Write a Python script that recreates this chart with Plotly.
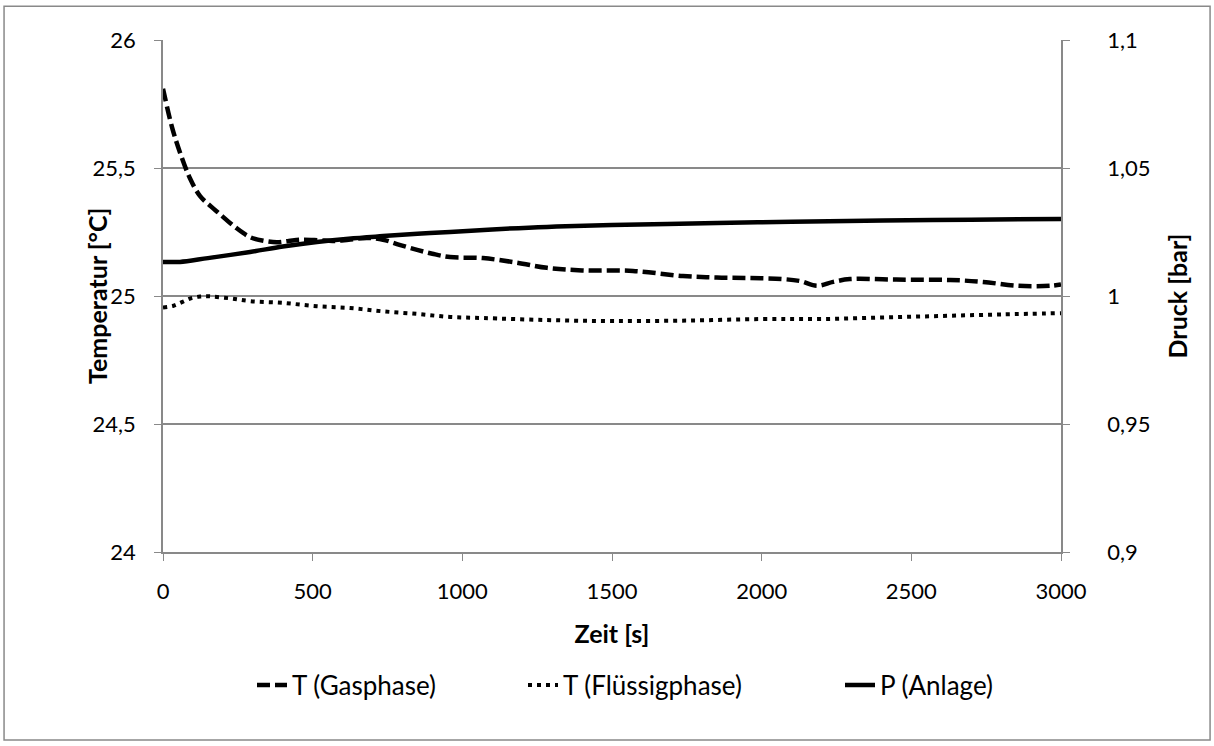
import plotly.graph_objects as go

# Data
t_gas = [0, 30, 57, 90, 124, 160, 190, 240, 291, 340, 381, 420, 458, 520, 568, 620, 681, 735, 790,
         849, 900, 959, 1069, 1183, 1283, 1400, 1570, 1737, 1850, 1961, 2071, 2130, 2185, 2239,
         2295, 2450, 2630, 2740, 2853, 2964, 3000]
T_gas = [25.81, 25.66, 25.56, 25.46, 25.39, 25.35, 25.32, 25.27, 25.23, 25.215, 25.21, 25.215, 25.22,
         25.218, 25.215, 25.22, 25.227, 25.22, 25.2, 25.18, 25.165, 25.152, 25.148, 25.13, 25.11,
         25.1, 25.098, 25.078, 25.072, 25.07, 25.066, 25.058, 25.04, 25.055, 25.066, 25.064,
         25.0625, 25.055, 25.04, 25.04, 25.045]

t_liq = [0, 35, 67, 95, 124, 150, 180, 230, 291, 401, 514, 625, 735, 849, 959, 1069, 1283, 1500,
         1750, 2000, 2200, 2400, 2600, 2800, 3000]
T_liq = [24.955, 24.962, 24.978, 24.992, 24.998, 24.999, 24.996, 24.99, 24.98, 24.973, 24.96, 24.953,
         24.94, 24.93, 24.918, 24.914, 24.906, 24.902, 24.904, 24.91, 24.91, 24.916, 24.922,
         24.928, 24.933]

t_p = [0, 30, 57, 150, 291, 400, 514, 620, 735, 850, 959, 1100, 1283, 1500, 1851, 2100, 2406, 2700, 3000]
P_anl = [1.0133, 1.0133, 1.0133, 1.0148, 1.0172, 1.0193, 1.0211, 1.0224, 1.0234, 1.0243, 1.025,
         1.026, 1.027, 1.0277, 1.0285, 1.029, 1.0295, 1.0298, 1.0301]

x_ticks = [0, 500, 1000, 1500, 2000, 2500, 3000]

FONT = "Lato"
GRID = "#898989"
FS = 22
TFS = 25
LFS = 26

fig = go.Figure()
fig.add_trace(go.Scatter(x=t_gas, y=T_gas, name="T (Gasphase)", mode="lines", legend="legend",
                         line=dict(color="black", width=4.5, dash="13px,5px", shape="spline")))
fig.add_trace(go.Scatter(x=t_liq, y=T_liq, name="T (Flüssigphase)", mode="lines", legend="legend2",
                         line=dict(color="black", width=4, dash="4px,5px", shape="spline")))
fig.add_trace(go.Scatter(x=t_p, y=P_anl, name="P (Anlage)", mode="lines", yaxis="y2", legend="legend3",
                         line=dict(color="black", width=4.5, shape="spline")))

leg = dict(orientation="h", xanchor="left", y=-0.26, yanchor="middle",
           font=dict(family=FONT, size=LFS), bgcolor="rgba(0,0,0,0)")

fig.update_layout(
    width=1214, height=746,
    paper_bgcolor="white", plot_bgcolor="white",
    margin=dict(l=163, r=153, t=40, b=194),
    separators=",.",
    font=dict(family=FONT, size=FS, color="black"),
    showlegend=True,
    legend=dict(leg, x=(252 - 163) / 898),
    legend2=dict(leg, x=(523 - 163) / 898),
    legend3=dict(leg, x=(840 - 163) / 898),
    xaxis=dict(range=[0, 3000], tickvals=x_ticks, showgrid=False, zeroline=False,
               showline=True, linecolor=GRID, linewidth=1.5, ticks="outside", ticklen=7,
               tickcolor=GRID, ticklabelstandoff=12,
               title=dict(text="<b>Zeit [s]</b>", font=dict(size=TFS), standoff=22)),
    yaxis=dict(range=[24, 26], dtick=0.5, showgrid=True, gridcolor=GRID, gridwidth=1.5,
               zeroline=False, showline=True, linecolor=GRID, linewidth=1.5, ticks="outside",
               ticklen=7, tickcolor=GRID, ticklabelstandoff=14),
    yaxis2=dict(range=[0.9, 1.1], dtick=0.05, overlaying="y", side="right", showgrid=False,
                zeroline=False, showline=True, linecolor=GRID, linewidth=1.5, ticks="outside",
                ticklen=7, tickcolor=GRID, ticklabelstandoff=33,
                title=dict(text="<b>Druck [bar]</b>", font=dict(size=TFS), standoff=20)),
    annotations=[dict(text="<b>Temperatur [°C]</b>", textangle=-90, xref="paper", yref="paper",
                      x=(97 - 163) / 898, y=0.5, xanchor="center", yanchor="middle",
                      showarrow=False, font=dict(family=FONT, size=TFS, color="black"))],
    shapes=[dict(type="rect", xref="paper", yref="paper", x0=-0.177, x1=1.166, y0=-0.367, y1=1.066,
                 line=dict(color=GRID, width=1.5), fillcolor="rgba(0,0,0,0)")],
)

fig.write_html("out.html", config={"displayModeBar": False},
               post_script="document.body.style.margin='0';")
